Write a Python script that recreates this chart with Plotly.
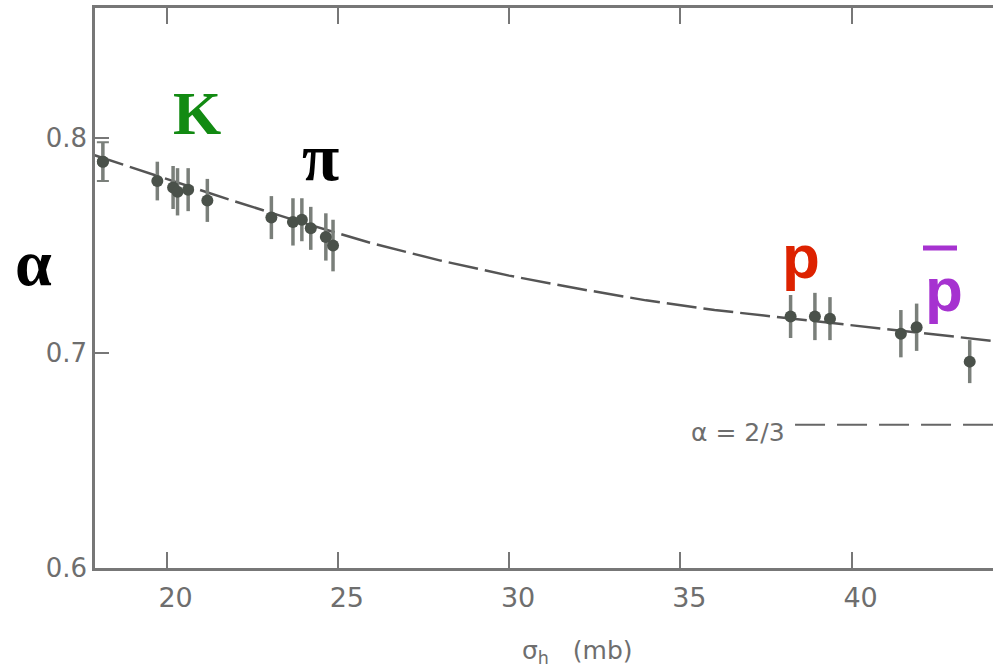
import plotly.graph_objects as go

# ---- data ----
sigma = [18.14, 19.73, 20.19, 20.32, 20.63, 21.19, 23.06, 23.69, 23.95, 24.21,
         24.65, 24.86, 38.22, 38.93, 39.37, 41.44, 41.90, 43.45]
alpha = [0.789, 0.780, 0.777, 0.775, 0.776, 0.771, 0.763, 0.761, 0.762, 0.758,
         0.754, 0.750, 0.717, 0.717, 0.716, 0.709, 0.712, 0.696]
alpha_err = [0.009, 0.009, 0.010, 0.011, 0.010, 0.010, 0.010, 0.011, 0.010, 0.010,
             0.011, 0.012, 0.010, 0.011, 0.010, 0.011, 0.011, 0.010]

fit_sigma = [17.9, 20, 22, 24, 26, 28, 30, 32, 34, 36, 38, 40, 42, 44.2]
fit_alpha = [0.792, 0.781, 0.7705, 0.7605, 0.751, 0.743, 0.736, 0.730, 0.7245,
             0.720, 0.7165, 0.713, 0.7095, 0.7055]

ref_sigma = [38.35, 44.2]
ref_alpha = [2 / 3, 2 / 3]

x_ticks = [20, 25, 30, 35, 40]
y_ticks = [0.6, 0.7, 0.8]

# ---- layout helpers (pixel -> paper) ----
W, H = 993, 668
L, R, T, B = 95, 0, 8, 100
PW, PH = W - L - R, H - T - B


def px(x):
    return (x - L) / PW


def py(y):
    return (H - B - y) / PH


GRAY = "#6e6e6e"
DOT = "#4a514a"

fig = go.Figure()

fig.add_trace(go.Scatter(
    x=fit_sigma, y=fit_alpha, mode="lines",
    line=dict(color="#555555", width=2.5, dash="30px,7px"),
    hoverinfo="skip", showlegend=False))

fig.add_trace(go.Scatter(
    x=ref_sigma, y=ref_alpha, mode="lines",
    line=dict(color="#666666", width=2, dash="30px,12px"),
    hoverinfo="skip", showlegend=False))

fig.add_trace(go.Scatter(
    x=sigma, y=alpha, mode="markers",
    marker=dict(color=DOT, size=12),
    error_y=dict(type="data", array=alpha_err, color="#7a7f7a",
                 thickness=3.5, width=0),
    showlegend=False))

fig.add_trace(go.Scatter(
    x=sigma[:1], y=alpha[:1], mode="markers",
    marker=dict(color=DOT, size=12),
    error_y=dict(type="data", array=alpha_err[:1], color="#7a7f7a",
                 thickness=2, width=6),
    showlegend=False))

serif = "Liberation Serif, Times New Roman, serif"
sans = "Liberation Sans, Arial, sans-serif"

annotations = [
    dict(text="<b>K</b>", x=px(197), y=py(113), font=dict(family=serif, size=62, color="#128a12")),
    dict(text="<b>π</b>", x=px(320), y=py(157), font=dict(family=serif, size=68, color="#000000")),
    dict(text="<b>α</b>", x=px(33), y=py(262), font=dict(family=serif, size=66, color="#000000")),
    dict(text="<b>p</b>", x=px(801), y=py(256), font=dict(family=sans, size=62, color="#dd2200")),
    dict(text="<b>p</b>", x=px(944), y=py(289), font=dict(family=sans, size=62, color="#a632d0")),
    dict(text="α = 2/3", x=px(787), y=py(432), xanchor="right",
         font=dict(family="DejaVu Sans", size=25, color=GRAY)),
    dict(text="σ<sub>h</sub>   (mb)", x=px(577), y=py(652),
         font=dict(family="DejaVu Sans", size=25, color=GRAY)),
]
for a in annotations:
    a.setdefault("xanchor", "center")
    a.update(xref="paper", yref="paper", yanchor="middle", showarrow=False)

fig.update_layout(
    width=W, height=H,
    margin=dict(l=L, r=R, t=T, b=B),
    paper_bgcolor="white", plot_bgcolor="white",
    annotations=annotations,
    shapes=[dict(type="line", xref="paper", yref="paper",
                 x0=px(923), x1=px(957), y0=py(248), y1=py(248),
                 line=dict(color="#a632d0", width=5))],
    xaxis=dict(range=[17.91, 44.13], tickvals=x_ticks,
               ticktext=[str(v) for v in x_ticks],
               showgrid=False, zeroline=False,
               showline=True, linecolor="#777777", linewidth=2.5,
               mirror="ticks", ticks="inside", ticklen=16, tickwidth=2,
               tickcolor="#777777", ticklabelshift=9, ticklabelstandoff=4,
               tickfont=dict(family="DejaVu Sans", size=27, color=GRAY)),
    yaxis=dict(range=[0.6, 0.8605], tickvals=y_ticks,
               ticktext=["0.6", "0.7", "0.8"],
               showgrid=False, zeroline=False,
               showline=True, linecolor="#777777", linewidth=2.5,
               ticks="inside", ticklen=14, tickwidth=2, tickcolor="#777777",
               tickfont=dict(family="DejaVu Sans", size=26, color=GRAY)),
)

fig.write_html("out.html")
